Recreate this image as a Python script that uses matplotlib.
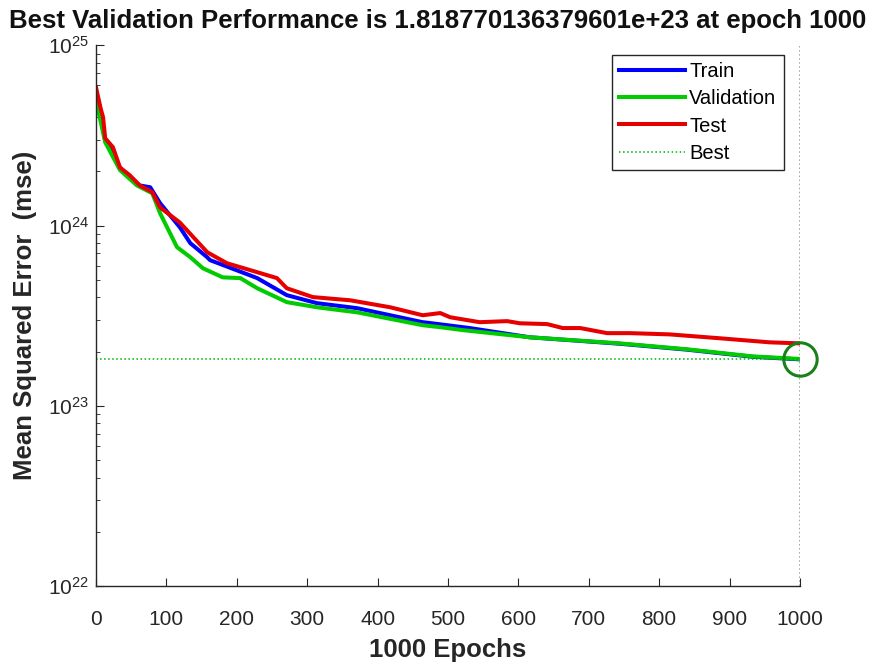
import numpy as np
import matplotlib
matplotlib.use('Agg')
import matplotlib.pyplot as plt

plt.rcParams['font.family'] = ['Liberation Sans', 'DejaVu Sans']

# values
train_epoch = [0, 5, 13, 20, 34, 62, 77, 91, 119, 134, 158, 162, 229, 271, 314, 371, 464, 474, 531, 616, 744, 839, 933, 1000]
train_mse = [5.48e24, 4.30e24, 2.97e24, 2.79e24, 2.08e24, 1.67e24, 1.63e24, 1.33e24, 9.79e23, 7.98e23, 6.67e23,
             6.43e23, 5.11e23, 4.11e23, 3.71e23, 3.48e23, 2.91e23, 2.88e23, 2.70e23, 2.40e23, 2.21e23,
             2.05e23, 1.87e23, 1.81e23]

val_epoch = [0, 3, 13, 34, 58, 80, 91, 115, 134, 152, 180, 205, 229, 271, 314, 371, 464, 489, 521, 616, 744, 839, 933, 1000]
val_mse = [5.28e24, 4.37e24, 2.90e24, 2.03e24, 1.67e24, 1.51e24, 1.17e24, 7.59e23, 6.67e23, 5.79e23,
           5.16e23, 5.11e23, 4.49e23, 3.76e23, 3.52e23, 3.30e23, 2.80e23, 2.73e23, 2.63e23, 2.40e23,
           2.22e23, 2.06e23, 1.88e23, 1.818770136379601e23]

test_epoch = [0, 3, 7, 10, 13, 24, 34, 48, 62, 80, 91, 119, 158, 186, 229, 257, 271, 308, 361, 418, 464,
              489, 503, 545, 584, 602, 641, 663, 688, 726, 759, 815, 886, 957, 1000]
test_mse = [5.85e24, 5.15e24, 4.40e24, 3.99e24, 3.05e24, 2.72e24, 2.10e24, 1.90e24, 1.67e24, 1.53e24, 1.26e24,
            1.04e24, 7.11e23, 6.18e23, 5.51e23, 5.11e23, 4.49e23, 4.01e23, 3.85e23, 3.52e23, 3.18e23,
            3.27e23, 3.10e23, 2.91e23, 2.95e23, 2.87e23, 2.84e23, 2.70e23, 2.70e23, 2.53e23, 2.53e23,
            2.49e23, 2.37e23, 2.25e23, 2.22e23]

best_epoch = 1000
best_perf = 1.818770136379601e23

fig = plt.figure(figsize=(8.81, 6.66), dpi=100)
ax = fig.add_axes([0.109, 0.12, 0.799, 0.812])

ax.semilogy(train_epoch, train_mse, color=(0, 0, 1), lw=2.9, label='Train')
ax.semilogy(val_epoch, val_mse, color=(0, 0.8, 0), lw=2.9, label='Validation')
ax.semilogy(test_epoch, test_mse, color=(0.9, 0, 0), lw=2.9, label='Test')
ax.axhline(best_perf, color=(0, 0.7, 0), ls=':', lw=1.1, label='Best')
ax.axvline(best_epoch, color=(0.45, 0.6, 0.45), ls=':', lw=1.1)
ax.plot([best_epoch], [best_perf], 'o', ms=24, mfc='none', mec=(0.1, 0.5, 0.1), mew=2.2, clip_on=False)

ax.set_xlim(0, 1000)
ax.set_ylim(1e22, 1e25)
ax.set_xticks(np.arange(0, 1001, 100))

for s in ['top', 'right']:
    ax.spines[s].set_visible(False)
for s in ['left', 'bottom']:
    ax.spines[s].set_color('#262626')
    ax.spines[s].set_linewidth(1.0)

ax.tick_params(which='both', direction='in', colors='#262626', labelsize=15, labelcolor='#262626')
ax.tick_params(which='major', length=6)
ax.tick_params(which='minor', length=3)
ax.tick_params(axis='x', pad=17)
ax.tick_params(axis='y', pad=5)

ax.set_xlabel('1000 Epochs', fontsize=18.5, fontweight='bold', color='#262626', labelpad=7)
ax.set_ylabel('Mean Squared Error  (mse)', fontsize=18.5, fontweight='bold', color='#262626', labelpad=8)
fig.suptitle('Best Validation Performance is 1.818770136379601e+23 at epoch 1000',
             x=0.497, y=0.987, fontsize=18.5, fontweight='bold', color='#111111')

leg = ax.legend(loc='upper right', bbox_to_anchor=(0.991, 1.0), fontsize=14.5, fancybox=False,
                framealpha=1, edgecolor='#262626', handlelength=3.3, borderpad=0.35,
                labelspacing=0.4, handletextpad=0.2)
leg.get_frame().set_linewidth(1.0)

fig.savefig('out.png', dpi=100)
